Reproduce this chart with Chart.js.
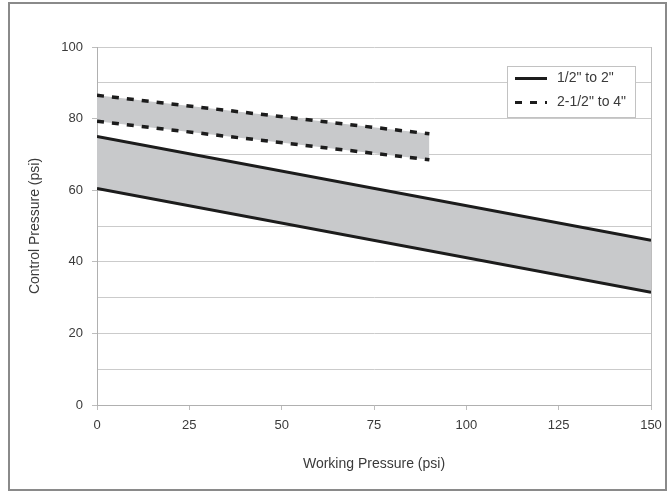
<!DOCTYPE html>
<html>
<head>
<meta charset="utf-8">
<script src="https://cdn.jsdelivr.net/npm/chart.js@4/dist/chart.umd.min.js"></script>
<style>
  html, body { margin: 0; padding: 0; background: #fff; }
  #wrap { width: 671px; height: 493px; }
</style>
</head>
<body>
<div id="wrap"><canvas id="pressureChart" width="671" height="493"></canvas></div>
<script>
// working pressure (psi) at the ends of each band
const smallX = [0, 150];
const smallUpper = [75, 46];
const smallLower = [60.5, 31.5];
const largeX = [0, 90];
const largeUpper = [86.5, 75.75];
const largeLower = [79.25, 68.5];

const xTicks = [0, 25, 50, 75, 100, 125, 150];
const yLabels = [0, 20, 40, 60, 80, 100];

const lineColor = '#1c1c1c';
const bandColor = '#c8c9cb';
const textColor = '#3a3a3a';
const fontFamily = '"Liberation Sans", Arial, sans-serif';

const pts = (xs, ys) => xs.map((x, i) => ({ x: x, y: ys[i] }));

// frame round the whole picture
const framePlugin = {
  id: 'frame',
  beforeDraw(chart) {
    const c = chart.ctx;
    c.save();
    c.fillStyle = '#fff';
    c.fillRect(0, 0, chart.width, chart.height);
    c.strokeStyle = '#8a8a8a';
    c.lineWidth = 2;
    c.strokeRect(9, 3, 657, 487);
    c.restore();
  }
};

// boxed legend in the top right of the plot
const boxLegend = {
  id: 'boxLegend',
  afterDraw(chart) {
    const c = chart.ctx;
    const area = chart.chartArea;
    const w = 128, h = 51;
    const left = area.right - 16 - w;
    const top = area.top + 19;
    c.save();
    c.fillStyle = '#fff';
    c.fillRect(left, top, w, h);
    c.strokeStyle = '#c2c2c2';
    c.lineWidth = 1;
    c.strokeRect(left + 0.5, top + 0.5, w, h);
    const items = chart.data.datasets.filter(d => d.label);
    items.forEach((d, i) => {
      const y = top + 12.5 + i * 24;
      c.beginPath();
      c.strokeStyle = d.borderColor;
      c.lineWidth = 3;
      c.setLineDash(d.borderDash || []);
      c.moveTo(left + 8, y);
      c.lineTo(left + 40, y);
      c.stroke();
      c.setLineDash([]);
      c.fillStyle = textColor;
      c.font = '14px ' + fontFamily;
      c.textBaseline = 'middle';
      c.fillText(d.label, left + 50, y);
    });
    c.restore();
  }
};

const ctx = document.getElementById('pressureChart').getContext('2d');
const chart = new Chart(ctx, {
  type: 'line',
  data: {
    datasets: [
      {
        label: '1/2" to 2"',
        data: pts(smallX, smallUpper),
        borderColor: lineColor,
        borderWidth: 3,
        backgroundColor: bandColor,
        fill: '+1',
        pointRadius: 0
      },
      {
        label: '',
        data: pts(smallX, smallLower),
        borderColor: lineColor,
        borderWidth: 3,
        fill: false,
        pointRadius: 0
      },
      {
        label: '2-1/2" to 4"',
        data: pts(largeX, largeUpper),
        borderColor: lineColor,
        borderWidth: 3.5,
        borderDash: [7, 8],
        backgroundColor: bandColor,
        fill: '+1',
        pointRadius: 0
      },
      {
        label: '',
        data: pts(largeX, largeLower),
        borderColor: lineColor,
        borderWidth: 3.5,
        borderDash: [7, 8],
        fill: false,
        pointRadius: 0
      }
    ]
  },
  options: {
    responsive: false,
    animation: false,
    layout: { padding: { left: 10, right: 20, top: 47, bottom: 20 } },
    plugins: {
      legend: { display: false },
      tooltip: { enabled: false },
      filler: { drawTime: 'beforeDatasetsDraw' }
    },
    scales: {
      x: {
        type: 'linear',
        min: 0,
        max: 150,
        afterBuildTicks: s => { s.ticks = xTicks.map(v => ({ value: v })); },
        ticks: { color: textColor, font: { size: 13, family: fontFamily }, padding: 8, maxRotation: 0 },
        grid: {
          color: c => (c.tick && c.tick.value === 150 ? '#bdbdbd' : 'rgba(0,0,0,0)'),
          tickColor: '#bdbdbd',
          tickLength: 5
        },
        border: { color: '#b0b0b0' },
        afterFit: s => { s.height = 68; },
        title: {
          display: true,
          text: 'Working Pressure (psi)',
          color: textColor,
          font: { size: 14, family: fontFamily },
          padding: { top: 18, bottom: 0 }
        }
      },
      y: {
        min: 0,
        max: 100,
        ticks: {
          stepSize: 10,
          color: textColor,
          font: { size: 13, family: fontFamily },
          padding: 9,
          callback: v => (yLabels.includes(v) ? v : '')
        },
        afterFit: s => { s.width = 87; },
        grid: {
          color: '#cbcbcb',
          tickColor: c => (c.tick && yLabels.includes(c.tick.value) ? '#bdbdbd' : 'rgba(0,0,0,0)'),
          tickLength: 5
        },
        border: { color: '#b0b0b0' },
        title: {
          display: true,
          text: 'Control Pressure (psi)',
          color: textColor,
          font: { size: 14, family: fontFamily },
          padding: { top: 17, bottom: 0 }
        }
      }
    }
  },
  plugins: [framePlugin, boxLegend]
});
</script>
</body>
</html>
